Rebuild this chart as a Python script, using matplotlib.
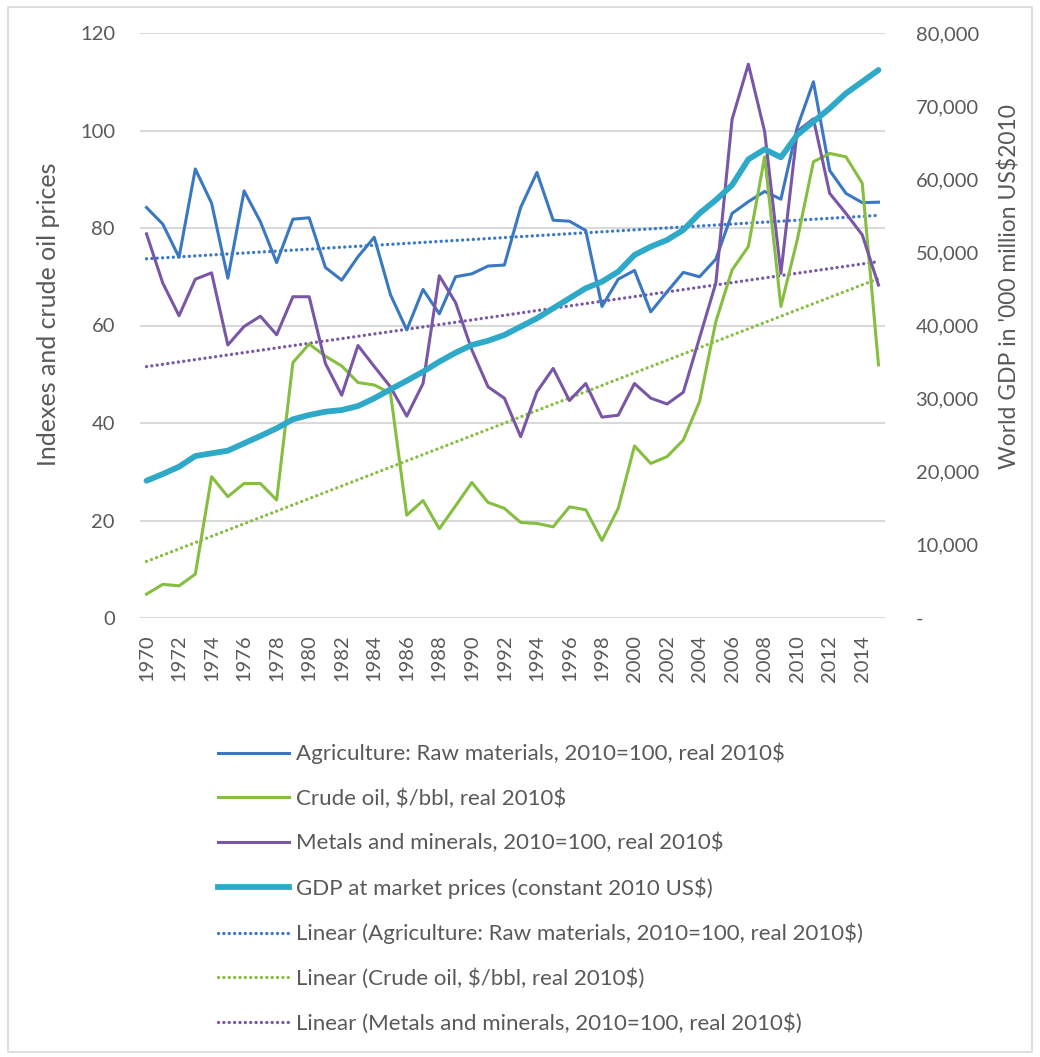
"""Commodity price indexes vs world GDP, 1970-2015, with linear trends."""

import numpy as np
import matplotlib
matplotlib.use("Agg")
import matplotlib.pyplot as plt
from matplotlib.patches import Rectangle
from matplotlib.ticker import FuncFormatter, MultipleLocator

years = list(range(1970, 2016))

agriculture = [84.2, 80.8, 74.0, 92.1, 85.1, 69.7, 87.6, 81.3, 72.9, 81.8,
               82.1, 71.9, 69.3, 74.1, 78.1, 66.3, 59.1, 67.4, 62.4, 70.0,
               70.6, 72.2, 72.4, 84.2, 91.4, 81.6, 81.4, 79.5, 63.9, 69.5,
               71.3, 62.8, 66.9, 70.9, 70.0, 73.6, 83.0, 85.4, 87.5, 85.9,
               100.6, 110.0, 91.8, 87.1, 85.2, 85.3]

crude_oil = [4.9, 6.9, 6.6, 9.0, 29.0, 24.9, 27.6, 27.6, 24.2, 52.4,
             56.2, 53.7, 51.7, 48.3, 47.8, 46.1, 21.1, 24.1, 18.3, 23.0,
             27.8, 23.7, 22.5, 19.6, 19.4, 18.7, 22.8, 22.2, 15.9, 22.5,
             35.3, 31.7, 33.1, 36.5, 44.4, 60.8, 71.4, 76.2, 94.6, 63.9,
             77.5, 93.6, 95.3, 94.6, 89.2, 51.9]

metals = [78.8, 68.7, 62.0, 69.5, 70.8, 56.0, 59.8, 61.9, 58.1, 65.9,
          65.9, 52.2, 45.7, 55.9, 51.6, 47.4, 41.4, 48.1, 70.2, 64.7,
          55.0, 47.4, 45.1, 37.2, 46.4, 51.2, 44.6, 48.1, 41.2, 41.6,
          48.1, 45.1, 43.9, 46.3, 57.5, 68.7, 102.3, 113.6, 99.8, 70.7,
          99.8, 102.4, 87.1, 83.0, 78.6, 68.3]

gdp = [18775, 19690, 20690, 22150, 22520, 22880, 23890, 24890, 25940, 27170,
       27760, 28210, 28440, 28990, 30040, 31270, 32450, 33680, 35050, 36280,
       37330, 37920, 38700, 39840, 40980, 42350, 43720, 45090, 45990, 47360,
       49640, 50780, 51690, 53060, 55340, 57160, 59210, 62720, 64090, 63000,
       66050, 67870, 69700, 71750, 73340, 74940]

labels = [
    "Agriculture: Raw materials, 2010=100, real 2010$",
    "Crude oil, $/bbl, real 2010$",
    "Metals and minerals, 2010=100, real 2010$",
    "GDP at market prices (constant 2010 US$)",
]

C_AGR = "#3B78C2"
C_OIL = "#86BE41"
C_MET = "#7957A6"
C_GDP = "#2FA9C8"
TXT = "#595959"
DOTS = (0, (0.01, 1.6))

plt.rcParams["font.family"] = ["Lato", "DejaVu Sans"]
plt.rcParams["text.parse_math"] = False

W, H = 1040, 1057
fig = plt.figure(figsize=(W / 100, H / 100), dpi=100)
fig.patches.append(Rectangle((8 / W, 5 / H), 1 - 16 / W, 1 - 12 / H,
                             transform=fig.transFigure, fill=False,
                             edgecolor="#D9D9D9", lw=1.2))

ax = fig.add_axes([140 / W, 1 - 618 / H, (885 - 140) / W, (618 - 33) / H])
ax2 = ax.twinx()

x = np.array(years)


def trend(vals):
    # linear trendline, like Excel's "Linear" option
    k, b = np.polyfit(x, vals, 1)
    return k * x + b


ax.plot(x, agriculture, color=C_AGR, lw=2.2, zorder=3)
ax.plot(x, crude_oil, color=C_OIL, lw=2.2, zorder=3)
ax.plot(x, metals, color=C_MET, lw=2.2, zorder=3)
for vals, c in [(agriculture, C_AGR), (crude_oil, C_OIL), (metals, C_MET)]:
    ax.plot(x, trend(vals), color=c, lw=2.4, ls=DOTS, dash_capstyle="round", zorder=2)
ax2.plot(x, gdp, color=C_GDP, lw=4.2, solid_capstyle="round", zorder=3)

ax.set_xlim(1969.6, 2015.4)
ax.set_ylim(0, 120)
ax2.set_ylim(0, 80000)
ax.yaxis.set_major_locator(MultipleLocator(20))
ax2.yaxis.set_major_locator(MultipleLocator(10000))
ax2.yaxis.set_major_formatter(FuncFormatter(lambda v, p: "-" if v == 0 else f"{v:,.0f}"))
ax.set_xticks(years[::2])
ax.set_xticklabels([str(y) for y in years[::2]], rotation=90)

ax.grid(axis="y", color="#D9D9D9", lw=1.5)
ax.set_axisbelow(True)
for a in (ax, ax2):
    for s in a.spines.values():
        s.set_visible(False)
ax.tick_params(axis="y", length=0, pad=18, labelsize=14.5, labelcolor=TXT)
ax.tick_params(axis="x", length=0, pad=12, labelsize=14.5, labelcolor=TXT)
ax2.tick_params(axis="y", length=0, pad=22, labelsize=14.5, labelcolor=TXT)

ax.set_ylabel("Indexes and crude oil prices", fontsize=18, color=TXT)
ax.yaxis.set_label_coords(-0.107, 0.52)
ax2.set_ylabel("World GDP in '000 million US$2010", fontsize=16.5, color=TXT, rotation=90)
ax2.yaxis.set_label_coords(1.152, 0.566)

handles = [
    plt.Line2D([], [], color=C_AGR, lw=2.2),
    plt.Line2D([], [], color=C_OIL, lw=2.2),
    plt.Line2D([], [], color=C_MET, lw=2.2),
    plt.Line2D([], [], color=C_GDP, lw=4.2),
    plt.Line2D([], [], color=C_AGR, lw=2.4, ls=DOTS, dash_capstyle="round"),
    plt.Line2D([], [], color=C_OIL, lw=2.4, ls=DOTS, dash_capstyle="round"),
    plt.Line2D([], [], color=C_MET, lw=2.4, ls=DOTS, dash_capstyle="round"),
]
leg_labels = labels + [f"Linear ({lab})" for lab in labels[:3]]
leg = fig.legend(handles, leg_labels, loc="upper left",
                 bbox_to_anchor=(218 / W, 1 - 743 / H), frameon=False,
                 fontsize=16, handlelength=3.2, handletextpad=0.32,
                 labelspacing=1.08, borderpad=0, borderaxespad=0)
for t in leg.get_texts():
    t.set_color(TXT)

fig.savefig("out.png", dpi=100)
